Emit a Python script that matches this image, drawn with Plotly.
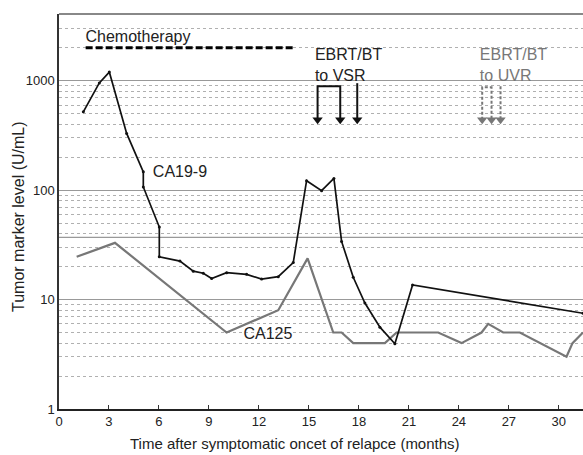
import plotly.graph_objects as go

# ---- data ----
ca199_months = [1.46, 2.42, 3.02, 4.06, 5.06, 5.06, 6.02, 6.02, 7.26, 8.06, 8.66, 9.16,
                10.06, 11.26, 12.16, 13.16, 14.06, 14.86, 15.76, 16.5, 16.96, 17.66,
                18.36, 19.26, 20.16, 21.22, 31.45]
ca199_values = [520, 955, 1200, 330, 147, 107, 46, 24.6, 22.5, 18.2, 17.4, 15.6,
                17.6, 17.0, 15.4, 16.2, 21.8, 122, 99, 128, 34, 16,
                9.3, 5.6, 3.95, 13.6, 7.5]

ca125_months = [1.06, 3.36, 10.06, 13.16, 14.92, 16.46, 16.96, 17.66, 19.56, 20.26,
                22.76, 24.16, 25.36, 25.76, 26.66, 27.66, 30.46, 30.82, 31.45]
ca125_values = [24.6, 33, 5.0, 8.0, 23.8, 5.0, 5.0, 4.0, 4.0, 5.0,
                5.0, 4.0, 5.0, 6.0, 5.0, 5.0, 3.0, 4.0, 5.0]

cutoff_value = 37
chemo_months = [1.6, 14.05]
chemo_level = 2000

vsr_bracket_months = [15.52, 15.52, 16.88, 16.88]
vsr_bracket_values = [440, 890, 890, 440]
vsr_single_months = [17.9, 17.9]
vsr_single_values = [950, 440]

uvr_bracket_months = [25.4, 25.4, 25.96, 25.96]
uvr_bracket_values = [440, 870, 870, 440]
uvr_single_months = [26.5, 26.5]
uvr_single_values = [890, 440]

x_range = [0, 31.45]
x_ticks = [0, 3, 6, 9, 12, 15, 18, 21, 24, 27, 30]
y_ticks = [1, 10, 100, 1000]
y_ticklabels = ["1", "10", "100", "1000"]

FONT = "Liberation Sans, Arial, sans-serif"
GRAY = "#777777"

fig = go.Figure()

# cutoff reference line
fig.add_trace(go.Scatter(x=x_range, y=[cutoff_value, cutoff_value], mode="lines",
                         line=dict(color="#999999", width=1.2), hoverinfo="skip"))

# chemotherapy bar
fig.add_trace(go.Scatter(x=chemo_months, y=[chemo_level, chemo_level], mode="lines",
                         line=dict(color="black", width=3, dash="7px,3px"), hoverinfo="skip"))

# CA125
fig.add_trace(go.Scatter(x=ca125_months, y=ca125_values, mode="lines",
                         line=dict(color=GRAY, width=2.2)))
# CA19-9
fig.add_trace(go.Scatter(x=ca199_months, y=ca199_values, mode="lines+markers",
                         line=dict(color="#111111", width=1.7),
                         marker=dict(size=3, color="#111111")))

# EBRT/BT arrows (VSR) - solid black
for xs, ys in [(vsr_bracket_months, vsr_bracket_values), (vsr_single_months, vsr_single_values)]:
    fig.add_trace(go.Scatter(x=xs, y=ys, mode="lines", line=dict(color="#111111", width=2),
                             hoverinfo="skip"))
    tips_x = [xs[i] for i in range(len(xs)) if ys[i] == min(ys)]
    tips_y = [min(ys)] * len(tips_x)
    fig.add_trace(go.Scatter(x=tips_x, y=tips_y, mode="markers",
                             marker=dict(symbol="triangle-down", size=9, color="#111111"),
                             hoverinfo="skip"))

# EBRT/BT arrows (UVR) - dashed gray
for xs, ys in [(uvr_bracket_months, uvr_bracket_values), (uvr_single_months, uvr_single_values)]:
    fig.add_trace(go.Scatter(x=xs, y=ys, mode="lines",
                             line=dict(color=GRAY, width=2, dash="3px,2px"), hoverinfo="skip"))
    tips_x = [xs[i] for i in range(len(xs)) if ys[i] == min(ys)]
    tips_y = [min(ys)] * len(tips_x)
    fig.add_trace(go.Scatter(x=tips_x, y=tips_y, mode="markers",
                             marker=dict(symbol="triangle-down", size=9, color=GRAY),
                             hoverinfo="skip"))

# text labels
fig.add_trace(go.Scatter(
    x=[4.74, 7.26, 12.54], y=[2445, 143, 4.74], mode="text",
    text=["Chemotherapy", "CA19-9", "CA125"], textposition="middle center",
    textfont=dict(family=FONT, size=16, color="#222222"), hoverinfo="skip"))
fig.add_trace(go.Scatter(
    x=[15.36], y=[1356], mode="text", text=["EBRT/BT<br>to VSR"],
    textposition="middle right", textfont=dict(family=FONT, size=16, color="#222222"),
    hoverinfo="skip"))
fig.add_trace(go.Scatter(
    x=[25.26], y=[1356], mode="text", text=["EBRT/BT<br>to UVR"],
    textposition="middle right", textfont=dict(family=FONT, size=16, color=GRAY),
    hoverinfo="skip"))

fig.update_layout(
    width=583, height=455,
    margin=dict(l=59, r=0, t=14, b=46),
    paper_bgcolor="white", plot_bgcolor="white",
    showlegend=False,
    font=dict(family=FONT, size=13, color="#222222"),
    xaxis=dict(range=x_range, tickvals=x_ticks, ticks="inside", ticklen=4,
               tickcolor="#333333", showgrid=False, zeroline=False,
               showline=True, linecolor="#222222", linewidth=1.5,
               tickfont=dict(size=13)),
    yaxis=dict(type="log", range=[0, 3.61], tickvals=y_ticks, ticktext=y_ticklabels,
               showgrid=True, gridcolor="#999999", gridwidth=1.2,
               showline=True, linecolor="#333333", linewidth=1.5,
               ticks="", zeroline=False, tickfont=dict(size=13),
               minor=dict(dtick="D1", showgrid=True, gridcolor="#b0b0b0",
                          griddash="dot", gridwidth=1, ticks="")),
    shapes=[dict(type="line", xref="paper", yref="paper", x0=0, x1=1, y0=1, y1=1,
                 line=dict(color="#888888", width=2))],
    annotations=[
        dict(text="Time after symptomatic oncet of relapce (months)", xref="paper",
             yref="paper", x=(295 - 59) / 524, y=-34 / 395, showarrow=False,
             font=dict(size=15, color="#222222"), xanchor="center", yanchor="middle"),
        dict(text="Tumor marker level (U/mL)", xref="paper", yref="paper",
             x=-41 / 524, y=(409 - 217) / 395, showarrow=False, textangle=-90,
             font=dict(size=16, color="#222222"), xanchor="center", yanchor="middle"),
    ],
)

fig.write_html("out.html", config={"displayModeBar": False},
               post_script="document.body.style.margin='0px';document.body.style.overflow='hidden';")
